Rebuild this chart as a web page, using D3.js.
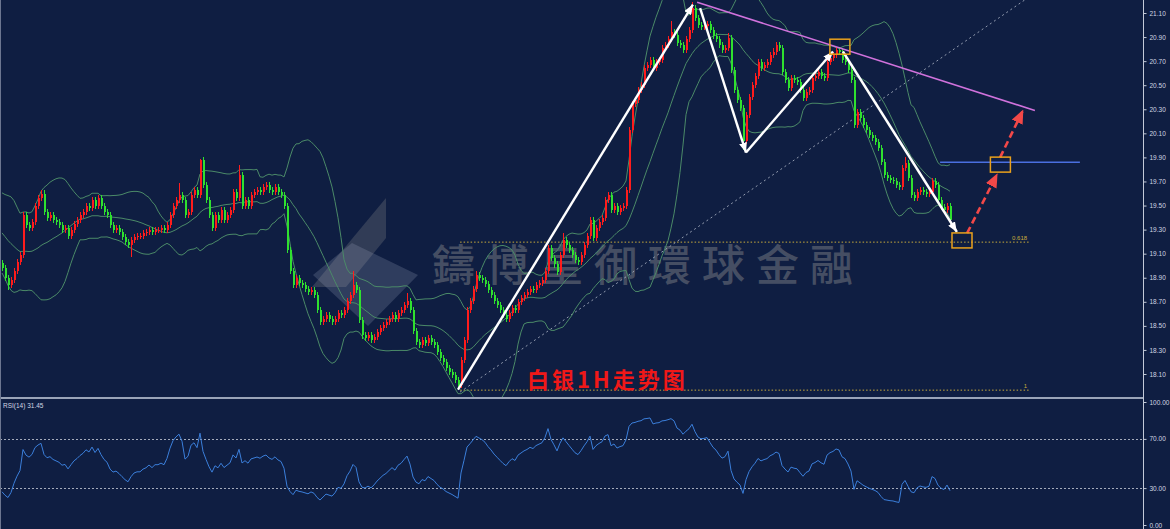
<!DOCTYPE html>
<html>
<head>
<meta charset="utf-8">
<script src="https://cdn.jsdelivr.net/npm/d3@7"></script>
<style>
  body { margin: 0; background: #0f1e42; }
  svg { display: block; }
</style>
</head>
<body>
<script>
// closes before the visible range (needed for the bands and RSI)
const priorCloses = [19.45, 19.52, 19.48, 19.40, 19.44, 19.50, 19.46, 19.38, 19.33, 19.36,
  19.30, 19.24, 19.28, 19.20, 19.15, 19.18, 19.10, 19.05, 19.08, 19.02];

// hourly closes
const closes = [
  18.98, 18.90, 18.84, 18.88, 18.96, 19.03, 19.09, 19.42, 19.34, 19.31,
  19.36, 19.50, 19.56, 19.60, 19.45, 19.40, 19.42, 19.38, 19.36, 19.34,
  19.30, 19.31, 19.25, 19.30, 19.35, 19.38, 19.42, 19.45, 19.50, 19.48,
  19.55, 19.50, 19.56, 19.50, 19.45, 19.42, 19.34, 19.30, 19.31, 19.28,
  19.24, 19.20, 19.17, 19.21, 19.24, 19.25, 19.25, 19.27, 19.28, 19.30,
  19.28, 19.30, 19.30, 19.31, 19.30, 19.34, 19.42, 19.50, 19.55, 19.59,
  19.55, 19.42, 19.45, 19.59, 19.63, 19.59, 19.88, 19.67, 19.55, 19.42,
  19.31, 19.42, 19.38, 19.46, 19.38, 19.42, 19.46, 19.61, 19.56, 19.75,
  19.50, 19.55, 19.50, 19.59, 19.61, 19.63, 19.61, 19.65, 19.67, 19.63,
  19.61, 19.65, 19.61, 19.59, 19.50, 19.13, 18.96, 18.84, 18.90, 18.86,
  18.84, 18.81, 18.78, 18.80, 18.76, 18.63, 18.53, 18.56, 18.59, 18.56,
  18.53, 18.56, 18.61, 18.59, 18.63, 18.71, 18.76, 18.84, 18.80, 18.55,
  18.42, 18.40, 18.42, 18.38, 18.41, 18.45, 18.48, 18.51, 18.53, 18.56,
  18.59, 18.56, 18.61, 18.63, 18.67, 18.71, 18.63, 18.46, 18.37, 18.34,
  18.38, 18.36, 18.40, 18.37, 18.34, 18.28, 18.23, 18.20, 18.15, 18.12,
  18.09, 18.05, 18.01, 18.22, 18.38, 18.63, 18.71, 18.81, 18.92, 18.90,
  18.88, 18.85, 18.80, 18.76, 18.71, 18.67, 18.63, 18.59, 18.56, 18.61,
  18.65, 18.63, 18.70, 18.73, 18.76, 18.78, 18.81, 18.80, 18.84, 18.86,
  18.88, 18.96, 19.15, 19.06, 19.01, 18.95, 19.09, 19.21, 19.17, 19.13,
  19.09, 19.05, 19.03, 19.09, 19.17, 19.25, 19.38, 19.23, 19.31, 19.36,
  19.40, 19.55, 19.59, 19.46, 19.50, 19.45, 19.48, 19.50, 19.63, 20.13,
  20.34, 20.38, 20.46, 20.50, 20.64, 20.67, 20.71, 20.64, 20.69, 20.71,
  20.81, 20.83, 20.88, 20.94, 20.92, 20.85, 20.83, 20.79, 20.88, 20.96,
  21.14, 21.06, 21.00, 20.98, 20.99, 21.01, 20.96, 20.91, 20.88, 20.83,
  20.79, 20.81, 20.89, 20.63, 20.46, 20.38, 20.31, 20.04, 20.25, 20.40,
  20.50, 20.58, 20.69, 20.64, 20.67, 20.69, 20.75, 20.78, 20.83, 20.81,
  20.61, 20.54, 20.48, 20.56, 20.54, 20.53, 20.46, 20.39, 20.44, 20.46,
  20.56, 20.58, 20.61, 20.58, 20.56, 20.69, 20.73, 20.75, 20.79, 20.78,
  20.71, 20.69, 20.63, 20.54, 20.17, 20.28, 20.23, 20.17, 20.13, 20.09,
  20.06, 20.03, 19.98, 19.86, 19.75, 19.73, 19.71, 19.70, 19.67, 19.65,
  19.81, 19.85, 19.73, 19.59, 19.56, 19.61, 19.63, 19.61, 19.60, 19.61,
  19.70, 19.67, 19.55, 19.49, 19.46, 19.50, 19.38
];

// long wicks: [bar index, high, low]
const spikes = [
  [2, null, 18.80], [43, null, 19.07], [59, 19.69, null], [66, 19.89, null],
  [79, 19.84, null], [117, 18.96, null], [135, 18.77, null], [152, null, 17.97],
  [158, 18.96, null], [168, null, 18.53], [187, 19.27, null], [223, 21.03, null],
  [230, 21.19, null], [242, 20.93, null], [247, null, 19.96], [301, 19.90, null]
];

const priceTicks = [18.10, 18.30, 18.50, 18.70, 18.90, 19.10, 19.30, 19.50, 19.70,
  19.90, 20.10, 20.30, 20.50, 20.70, 20.90, 21.10];
const rsiTicks = [0, 30, 70, 100];
const rsiLevels = [30, 70];

const fibLevels = [{ label: '0.618', value: 19.20 }, { label: '1', value: 17.97 }];
const fibSpan = [152.7, 342.7];
const channelLine = [[152.7, 17.95], [341, 21.21]];

const waveLegs = [
  [[152, 17.97], [230.3, 21.17]],
  [[232.7, 21.14], [248, 19.94]],
  [[248, 19.94], [277, 20.78]],
  [[280.3, 20.78], [318.3, 19.28]]
];
const trendLine = [[231.7, 21.19], [344.3, 20.29]];
const resistance = [[312.7, 19.86], [359.3, 19.86]];
const boxes = [[279.3, 20.82], [332.8, 19.84], [320, 19.21]];
const projections = [
  [[321.7, 19.27], [331.7, 19.76]],
  [[332.7, 19.90], [340.3, 20.29]]
];

const width = 1170, height = 529;
const axisX = 1143, mainBottom = 397;
const wick = 0.025;

const x = d3.scaleLinear().domain([0, closes.length - 1]).range([2, 950]);
const y = d3.scaleLinear().domain([18.10, 21.10]).range([374, 13]);
const r = d3.scaleLinear().domain([0, 100]).range([525, 402]);

const all = priorCloses.concat(closes);
const off = priorCloses.length;

const candles = closes.map((c, i) => {
  const o = all[off + i - 1];
  return { i, o, c, h: Math.max(o, c) + wick, l: Math.min(o, c) - wick };
});
spikes.forEach(([i, h, l]) => {
  if (h !== null) candles[i].h = h;
  if (l !== null) candles[i].l = l;
});

// bollinger 20, 2
const bands = closes.map((c, i) => {
  const k = off + i;
  const win = all.slice(k - 19, k + 1);
  const m = d3.mean(win);
  const sd = Math.sqrt(d3.mean(win, v => (v - m) * (v - m)));
  return { i, m, up: m + 2 * sd, lo: m - 2 * sd };
});

// rsi 14 (wilder)
function rsi(values, n) {
  const out = values.map(() => null);
  let g = 0, l = 0;
  for (let k = 1; k <= n; k++) {
    const d = values[k] - values[k - 1];
    if (d > 0) g += d; else l -= d;
  }
  g /= n; l /= n;
  out[n] = 100 - 100 / (1 + g / l);
  for (let k = n + 1; k < values.length; k++) {
    const d = values[k] - values[k - 1];
    g = (g * (n - 1) + Math.max(d, 0)) / n;
    l = (l * (n - 1) + Math.max(-d, 0)) / n;
    out[k] = l === 0 ? 100 : 100 - 100 / (1 + g / l);
  }
  return out;
}
const rsiAll = rsi(all, 14);
const rsiData = closes.map((c, i) => ({ i, v: rsiAll[off + i] }));

const svg = d3.select('body').append('svg')
  .attr('width', width)
  .attr('height', height)
  .style('background', '#0f1e42');

const defs = svg.append('defs');
defs.append('clipPath').attr('id', 'main')
  .append('rect').attr('x', 0).attr('y', 0).attr('width', axisX).attr('height', mainBottom);
defs.append('marker').attr('id', 'wh')
  .attr('markerUnits', 'userSpaceOnUse')
  .attr('markerWidth', 10).attr('markerHeight', 8)
  .attr('refX', 10).attr('refY', 4).attr('orient', 'auto')
  .append('path').attr('d', 'M0,0L10,4L0,8Z').attr('fill', '#ffffff');
defs.append('marker').attr('id', 'rh')
  .attr('markerUnits', 'userSpaceOnUse')
  .attr('markerWidth', 14).attr('markerHeight', 12)
  .attr('refX', 13).attr('refY', 6).attr('orient', 'auto')
  .append('path').attr('d', 'M0,0L14,6L0,12Z').attr('fill', '#f24848');

// watermark
const wm = svg.append('g');
wm.append('polygon')
  .attr('points', '312,287 386,198 386,238 346,287')
  .attr('fill', '#8c8c8c').attr('opacity', 0.28);
wm.append('polygon')
  .attr('points', '313,275 352,243 418,275 368,326')
  .attr('fill', '#a4aec4').attr('opacity', 0.22);
wm.append('text')
  .attr('x', 432).attr('y', 281)
  .attr('font-family', '"Noto Sans CJK TC", "Noto Sans CJK SC", sans-serif')
  .attr('font-size', 43).attr('font-weight', 500)
  .attr('letter-spacing', 11)
  .attr('fill', '#969696').attr('opacity', 0.4)
  .text('鑄博皇御環球金融');

const main = svg.append('g').attr('clip-path', 'url(#main)');

// fib levels
main.selectAll('.fib').data(fibLevels).enter().append('line')
  .attr('x1', x(fibSpan[0])).attr('x2', x(fibSpan[1]))
  .attr('y1', d => y(d.value) + 0.5).attr('y2', d => y(d.value) + 0.5)
  .attr('stroke', '#c9ab3c').attr('stroke-width', 1).attr('stroke-dasharray', '1.5,2');
main.selectAll('.fibl').data(fibLevels).enter().append('text')
  .attr('x', x(fibSpan[1]) - 3).attr('y', d => y(d.value) - 2)
  .attr('text-anchor', 'end')
  .attr('font-family', '"Liberation Sans", sans-serif').attr('font-size', 6)
  .attr('fill', '#c9ab3c')
  .text(d => d.label);

main.append('line')
  .attr('x1', x(channelLine[0][0])).attr('y1', y(channelLine[0][1]))
  .attr('x2', x(channelLine[1][0])).attr('y2', y(channelLine[1][1]))
  .attr('stroke', '#b4bccc').attr('stroke-width', 1)
  .attr('stroke-dasharray', '2,3').attr('opacity', 0.8);

// bollinger bands
['up', 'm', 'lo'].forEach(key => {
  main.append('path').datum(bands)
    .attr('fill', 'none').attr('stroke', '#4b8a68').attr('stroke-width', 1)
    .attr('d', d3.line().x(d => x(d.i)).y(d => y(d[key])));
});

// candles
const cg = main.append('g').attr('shape-rendering', 'crispEdges');
cg.selectAll('line').data(candles).enter().append('line')
  .attr('x1', d => Math.round(x(d.i)) + 0.5).attr('x2', d => Math.round(x(d.i)) + 0.5)
  .attr('y1', d => y(d.h)).attr('y2', d => y(d.l))
  .attr('stroke', d => d.c >= d.o ? '#ff1c1c' : '#2fe02f');
cg.selectAll('rect').data(candles).enter().append('rect')
  .attr('x', d => Math.round(x(d.i)) - 0.5)
  .attr('width', 2)
  .attr('y', d => y(Math.max(d.o, d.c)))
  .attr('height', d => Math.max(1, Math.abs(y(d.o) - y(d.c))))
  .attr('fill', d => d.c >= d.o ? '#ff1c1c' : '#2fe02f');

// trend lines
main.append('line')
  .attr('x1', x(trendLine[0][0])).attr('y1', y(trendLine[0][1]))
  .attr('x2', x(trendLine[1][0])).attr('y2', y(trendLine[1][1]))
  .attr('stroke', '#d072dc').attr('stroke-width', 1.6);
main.append('line')
  .attr('x1', x(resistance[0][0])).attr('y1', y(resistance[0][1]))
  .attr('x2', x(resistance[1][0])).attr('y2', y(resistance[1][1]))
  .attr('stroke', '#4a6fe0').attr('stroke-width', 1.5);

// wave legs
main.selectAll('.leg').data(waveLegs).enter().append('line')
  .attr('x1', d => x(d[0][0])).attr('y1', d => y(d[0][1]))
  .attr('x2', d => x(d[1][0])).attr('y2', d => y(d[1][1]))
  .attr('stroke', '#ffffff').attr('stroke-width', 2.4)
  .attr('marker-end', 'url(#wh)');

// projection arrows
main.selectAll('.proj').data(projections).enter().append('line')
  .attr('x1', d => x(d[0][0])).attr('y1', d => y(d[0][1]))
  .attr('x2', d => x(d[1][0])).attr('y2', d => y(d[1][1]))
  .attr('stroke', '#f24848').attr('stroke-width', 2.6)
  .attr('stroke-dasharray', '7,4')
  .attr('marker-end', 'url(#rh)');

// boxes
main.selectAll('.box').data(boxes).enter().append('rect')
  .attr('x', d => x(d[0]) - 10).attr('y', d => y(d[1]) - 7.5)
  .attr('width', 20).attr('height', 15)
  .attr('fill', 'none').attr('stroke', '#eaa11c').attr('stroke-width', 1.5);

// title
svg.append('text')
  .attr('x', 527).attr('y', 388)
  .attr('font-family', '"Noto Sans CJK SC", sans-serif')
  .attr('font-size', 22).attr('font-weight', 700).attr('letter-spacing', 3)
  .attr('fill', '#f01818')
  .text('白银1H走势图');

// rsi panel
svg.selectAll('.lvl').data(rsiLevels).enter().append('line')
  .attr('x1', 0).attr('x2', axisX)
  .attr('y1', d => Math.round(r(d)) + 0.5).attr('y2', d => Math.round(r(d)) + 0.5)
  .attr('stroke', '#a4abbb').attr('stroke-width', 1).attr('stroke-dasharray', '2,2');
svg.append('path').datum(rsiData.filter(d => d.v !== null))
  .attr('fill', 'none').attr('stroke', '#3b7fdb').attr('stroke-width', 1)
  .attr('d', d3.line().x(d => x(d.i)).y(d => r(d.v)));
svg.append('text')
  .attr('x', 3).attr('y', 408)
  .attr('font-family', '"Liberation Sans", sans-serif').attr('font-size', 6.5)
  .attr('fill', '#d2d6e2')
  .text('RSI(14) 31.45');

// frame
svg.append('line').attr('x1', 0).attr('x2', axisX).attr('y1', mainBottom + 1).attr('y2', mainBottom + 1)
  .attr('stroke', '#9aa4b8').attr('stroke-width', 2);
svg.append('line').attr('x1', 0.5).attr('x2', 0.5).attr('y1', 0).attr('y2', height)
  .attr('stroke', '#6c7690').attr('stroke-width', 1);
svg.append('line').attr('x1', axisX + 0.5).attr('x2', axisX + 0.5).attr('y1', 0).attr('y2', height)
  .attr('stroke', '#c2c9d8').attr('stroke-width', 1);

function styleAxis(g) {
  g.select('.domain').remove();
  g.selectAll('line').attr('stroke', '#c2c9d8');
  g.selectAll('text')
    .attr('font-family', '"Liberation Sans", sans-serif')
    .attr('font-size', 6.5)
    .attr('fill', '#d2d6e2');
}

svg.append('g')
  .attr('transform', `translate(${axisX + 0.5},0)`)
  .call(d3.axisRight(y).tickValues(priceTicks).tickSize(3).tickSizeOuter(0).tickFormat(d3.format('.2f')))
  .call(styleAxis);

svg.append('g')
  .attr('transform', `translate(${axisX + 0.5},0)`)
  .call(d3.axisRight(r).tickValues(rsiTicks).tickSize(3).tickSizeOuter(0).tickFormat(d3.format('.2f')))
  .call(styleAxis);
</script>
</body>
</html>
